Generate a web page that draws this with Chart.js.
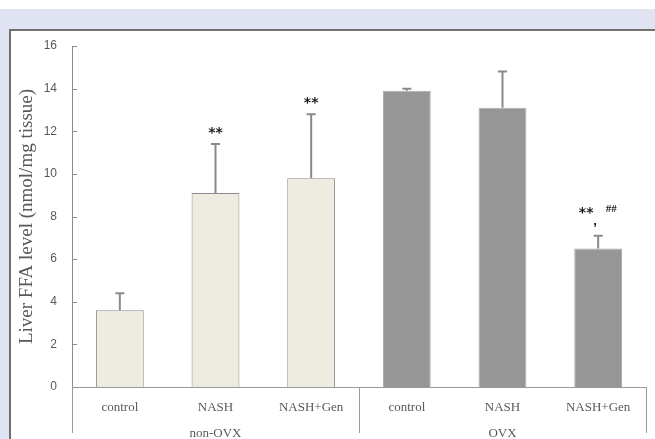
<!DOCTYPE html>
<html>
<head>
<meta charset="utf-8">
<script src="https://cdn.jsdelivr.net/npm/chart.js@4.4.1/dist/chart.umd.min.js"></script>
<style>
  html, body { margin: 0; padding: 0; background: #ffffff; }
  canvas { display: block; }
</style>
</head>
<body>
<canvas id="c" width="655" height="439"></canvas>
<script>
// ---- data ----
const categories = ['control', 'NASH', 'NASH+Gen', 'control', 'NASH', 'NASH+Gen'];
const groups = ['non-OVX', 'OVX'];
const groupSizes = [3, 3];
const ffaMeans = [3.6, 9.1, 9.8, 13.9, 13.1, 6.5];
const ffaErrors = [0.8, 2.3, 3.0, 0.1, 1.7, 0.6];
const starMarks = ['', '**', '**', '', '', '**'];
const hashMarks = ['', '', '', '', '', '##'];
const yTicks = [0, 2, 4, 6, 8, 10, 12, 14, 16];

const groupFill = ['#eeece1', '#969696'];
const groupBorder = ['#8c8c8c', '#a9a9a9'];
const barGroup = [];
groupSizes.forEach((n, g) => { for (let i = 0; i < n; i++) barGroup.push(g); });

const bgPlugin = {
  id: 'bg',
  beforeDraw(chart) {
    const ctx = chart.ctx;
    ctx.save();
    ctx.fillStyle = '#ffffff';
    ctx.fillRect(0, 0, 655, 439);
    ctx.fillStyle = '#e0e3f1';
    ctx.fillRect(0, 9, 655, 20);
    ctx.fillRect(0, 9, 9, 430);
    ctx.strokeStyle = '#707070';
    ctx.lineWidth = 2;
    ctx.beginPath();
    ctx.moveTo(10, 439);
    ctx.lineTo(10, 30);
    ctx.lineTo(655, 30);
    ctx.stroke();
    ctx.restore();
  }
};

const errPlugin = {
  id: 'errs',
  afterDatasetsDraw(chart) {
    const ctx = chart.ctx;
    const meta = chart.getDatasetMeta(0);
    const y = chart.scales.y;
    ctx.save();
    meta.data.forEach((bar, i) => {
      const x = bar.x;
      const yTop = y.getPixelForValue(ffaMeans[i] + ffaErrors[i]);
      const yBase = y.getPixelForValue(ffaMeans[i]);
      ctx.strokeStyle = '#8a8a8a';
      ctx.lineWidth = 2;
      ctx.beginPath();
      ctx.moveTo(x, yBase);
      ctx.lineTo(x, yTop);
      ctx.moveTo(x - 4.5, yTop);
      ctx.lineTo(x + 4.5, yTop);
      ctx.stroke();
      ctx.fillStyle = '#1a1a1a';
      ctx.textBaseline = 'middle';
      if (hashMarks[i]) {
        ctx.font = 'bold 14px "DejaVu Sans"';
        ctx.textAlign = 'center';
        ctx.fillText(starMarks[i], x - 12, yTop - 22);
        ctx.font = 'bold 13px "Liberation Sans"';
        ctx.fillText(',', x - 3, yTop - 14);
        ctx.font = 'bold 11px "Liberation Serif"';
        ctx.fillText(hashMarks[i], x + 13, yTop - 27);
      } else if (starMarks[i]) {
        ctx.font = 'bold 14px "DejaVu Sans"';
        ctx.textAlign = 'center';
        ctx.fillText(starMarks[i], x, yTop - 11);
      }
    });
    ctx.restore();
  }
};

const axisPlugin = {
  id: 'axisDeco',
  afterDraw(chart) {
    const ctx = chart.ctx;
    const xs = chart.scales.x;
    const ys = chart.scales.y;
    const left = chart.chartArea.left;
    const right = chart.chartArea.right;
    const bottom = chart.chartArea.bottom;
    ctx.save();
    // inside ticks on y axis
    ctx.strokeStyle = '#8c8c8c';
    ctx.lineWidth = 1;
    yTicks.forEach(v => {
      const py = Math.round(ys.getPixelForValue(v)) + 0.5;
      ctx.beginPath();
      ctx.moveTo(left, py);
      ctx.lineTo(left + 5, py);
      ctx.stroke();
    });
    // group boxes
    const step = (right - left) / categories.length;
    ctx.strokeStyle = '#9a9a9a';
    let idx = 0;
    const bounds = [left];
    groupSizes.forEach(n => { idx += n; bounds.push(xs.getPixelForValue(idx - 1) + step / 2); });
    bounds.forEach(bx => {
      const px = Math.round(bx) + 0.5;
      ctx.beginPath();
      ctx.moveTo(px, bottom);
      ctx.lineTo(px, 433);
      ctx.stroke();
    });
    // group labels
    ctx.fillStyle = '#595959';
    ctx.font = '13px "Liberation Serif"';
    ctx.textAlign = 'center';
    ctx.textBaseline = 'middle';
    let start = 0;
    groups.forEach((g, k) => {
      const a = xs.getPixelForValue(start);
      const b = xs.getPixelForValue(start + groupSizes[k] - 1);
      ctx.fillText(g, (a + b) / 2, 434);
      start += groupSizes[k];
    });
    ctx.restore();
  }
};

new Chart(document.getElementById('c'), {
  type: 'bar',
  data: {
    labels: categories,
    datasets: [{
      data: ffaMeans,
      backgroundColor: barGroup.map(g => groupFill[g]),
      borderColor: barGroup.map(g => groupBorder[g]),
      borderWidth: 1,
      borderSkipped: 'bottom',
      categoryPercentage: 1.0,
      barPercentage: 0.5
    }]
  },
  options: {
    responsive: false,
    animation: false,
    devicePixelRatio: 1,
    layout: { padding: { top: 46, right: 9, bottom: 0, left: 0 } },
    plugins: { legend: { display: false }, tooltip: { enabled: false } },
    scales: {
      x: {
        type: 'category',
        offset: true,
        grid: { display: false, drawTicks: false },
        border: { display: true, color: '#9a9a9a', width: 1 },
        ticks: {
          color: '#595959',
          font: { family: 'Liberation Serif', size: 13 },
          padding: 13,
          maxRotation: 0,
          autoSkip: false
        },
        afterFit(scale) { scale.height = 52; }
      },
      y: {
        min: 0,
        max: 16,
        afterBuildTicks(scale) { scale.ticks = yTicks.map(v => ({ value: v })); },
        grid: { display: false, drawTicks: false },
        border: { display: true, color: '#8c8c8c', width: 1 },
        ticks: {
          color: '#595959',
          font: { family: 'Liberation Sans', size: 12 },
          padding: 15
        },
        title: {
          display: true,
          text: 'Liver FFA level (nmol/mg tissue)',
          color: '#595959',
          font: { family: 'Liberation Serif', size: 19 },
          padding: { top: 16, bottom: 0 }
        },
        afterFit(scale) { scale.width = 72; }
      }
    }
  },
  plugins: [bgPlugin, errPlugin, axisPlugin]
});
</script>
</body>
</html>
